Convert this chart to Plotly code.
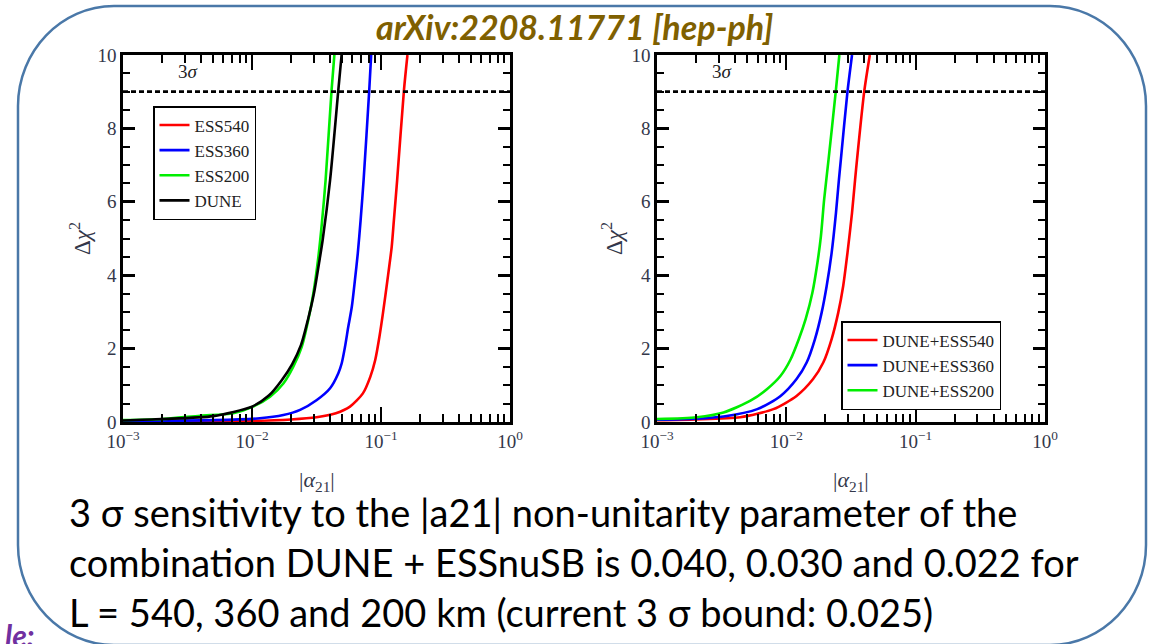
import plotly.graph_objects as go

# ---------------- data ----------------
# Left panel: individual experiments
ess540_x = [0.001, 0.01, 0.02, 0.0316, 0.0447, 0.0575, 0.0724, 0.0826, 0.0902, 0.0973, 0.1035, 0.1122, 0.1211, 0.1259, 0.1334, 0.1507, 0.1603]
ess540_y = [0.01, 0.03, 0.07, 0.13, 0.24, 0.42, 0.78, 1.23, 1.69, 2.33, 2.96, 3.87, 4.78, 5.50, 6.59, 9.05, 10.0]

ess360_x = [0.001, 0.005, 0.0115, 0.0175, 0.0236, 0.0318, 0.0403, 0.0467, 0.0496, 0.0526, 0.0558, 0.0594, 0.0628, 0.0661, 0.0695, 0.0733, 0.0811, 0.0839]
ess360_y = [0.03, 0.05, 0.10, 0.19, 0.33, 0.60, 0.92, 1.33, 1.60, 2.05, 2.60, 3.14, 3.87, 4.60, 5.50, 6.59, 9.05, 10.0]

ess200_x = [0.001, 0.002, 0.00395, 0.00716, 0.0102, 0.0138, 0.0175, 0.0209, 0.0243, 0.0273, 0.0299, 0.0327, 0.0348, 0.0372, 0.0414, 0.0435]
ess200_y = [0.05, 0.08, 0.17, 0.24, 0.42, 0.69, 1.05, 1.51, 2.05, 2.78, 3.51, 4.50, 5.41, 6.59, 9.05, 10.0]

dune_x = [0.001, 0.002, 0.005, 0.01, 0.0135, 0.017, 0.0205, 0.024, 0.0272, 0.0302, 0.0335, 0.0353, 0.0403, 0.0467, 0.0495]
dune_y = [0.04, 0.08, 0.16, 0.42, 0.72, 1.14, 1.58, 2.10, 2.80, 3.50, 4.45, 4.96, 6.59, 9.05, 10.0]

# Right panel: combinations with DUNE
c540_x = [0.001, 0.002, 0.0044, 0.00794, 0.012, 0.0161, 0.0193, 0.0224, 0.0252, 0.0275, 0.0297, 0.0322, 0.0340, 0.0352, 0.0400, 0.0442]
c540_y = [0.05, 0.07, 0.13, 0.35, 0.71, 1.17, 1.62, 2.26, 2.98, 3.70, 4.61, 5.70, 6.60, 7.15, 9.0, 10.0]

c360_x = [0.001, 0.002, 0.00327, 0.00596, 0.00903, 0.012, 0.01436, 0.01665, 0.01875, 0.02049, 0.0224, 0.0242, 0.0255, 0.0264, 0.0297, 0.0322]
c360_y = [0.06, 0.09, 0.15, 0.35, 0.71, 1.17, 1.62, 2.26, 2.98, 3.70, 4.61, 5.70, 6.60, 7.15, 9.0, 10.0]

c200_x = [0.001, 0.00203, 0.00327, 0.00528, 0.00711, 0.00903, 0.0108, 0.0125, 0.0141, 0.0159, 0.0174, 0.0185, 0.0196, 0.0212, 0.0241, 0.0257]
c200_y = [0.08, 0.13, 0.26, 0.58, 0.90, 1.26, 1.71, 2.26, 2.80, 3.52, 4.34, 5.06, 6.06, 7.15, 9.0, 10.0]

sigma3_level = 9.0
x_range_log = [-3, 0]
y_range = [0, 10]
x_tickvals = [0.001, 0.01, 0.1, 1]
x_ticktext = ["10<sup>\u22123</sup>", "10<sup>\u22122</sup>", "10<sup>\u22121</sup>", "10<sup>0</sup>"]
y_tickvals = [0, 2, 4, 6, 8, 10]

left_names = ["ESS540", "ESS360", "ESS200", "DUNE"]
right_names = ["DUNE+ESS540", "DUNE+ESS360", "DUNE+ESS200"]

RED, BLUE, GREEN, BLACK = "#ff0000", "#0000ff", "#00ee00", "#000000"

W, H = 1150, 644


def px(x):
    return x / W


def py(y):
    return 1 - y / H


fig = go.Figure()
serif = "Liberation Serif"

left_series = [(ess540_x, ess540_y, RED), (ess360_x, ess360_y, BLUE), (ess200_x, ess200_y, GREEN), (dune_x, dune_y, BLACK)]
for (xs, ys, c), name in zip(left_series, left_names):
    fig.add_trace(go.Scatter(x=xs, y=ys, mode="lines", name=name,
                             line=dict(color=c, width=2.6, shape="spline", smoothing=0.7),
                             xaxis="x", yaxis="y", legend="legend"))

right_series = [(c540_x, c540_y, RED), (c360_x, c360_y, BLUE), (c200_x, c200_y, GREEN)]
for (xs, ys, c), name in zip(right_series, right_names):
    fig.add_trace(go.Scatter(x=xs, y=ys, mode="lines", name=name,
                             line=dict(color=c, width=2.6, shape="spline", smoothing=0.7),
                             xaxis="x2", yaxis="y2", legend="legend2"))

# 3 sigma lines
for xa, ya in [("x", "y"), ("x2", "y2")]:
    fig.add_trace(go.Scatter(x=[0.001, 1], y=[sigma3_level, sigma3_level], mode="lines",
                             line=dict(color="black", width=2.8, dash="5px,3px"), showlegend=False,
                             xaxis=xa, yaxis=ya, hoverinfo="skip"))

tickfont = dict(family=serif, size=19, color="#33374a")


def xaxis_cfg(domain, anchor):
    return dict(type="log", range=x_range_log, domain=domain, anchor=anchor, automargin=False,
                tickvals=x_tickvals, ticktext=x_ticktext, ticks="inside", ticklen=15, tickwidth=2,
                tickcolor="black", showline=True, linecolor="black", linewidth=2.5, mirror="ticks",
                showgrid=False, zeroline=False, tickfont=tickfont,
                minor=dict(ticks="inside", ticklen=8, tickwidth=2, tickcolor="black", dtick="D1", showgrid=False))


def yaxis_cfg(domain, anchor):
    return dict(range=y_range, domain=domain, anchor=anchor, tickvals=y_tickvals, automargin=False,
                ticks="inside", ticklen=12, tickwidth=2.5, tickcolor="black",
                showline=True, linecolor="black", linewidth=2.5, mirror="ticks",
                showgrid=False, zeroline=False, tickfont=tickfont,
                minor=dict(ticks="inside", ticklen=7, tickwidth=2, tickcolor="black", dtick=0.5, showgrid=False))


ydom = [py(422), py(55)]
legfont = dict(family=serif, size=17, color="#222")
fig.update_layout(
    width=W, height=H,
    margin=dict(l=0, r=0, t=0, b=0, pad=0, autoexpand=False),
    paper_bgcolor="white", plot_bgcolor="white",
    xaxis=xaxis_cfg([px(123), px(510)], "y"),
    yaxis=yaxis_cfg(ydom, "x"),
    xaxis2=xaxis_cfg([px(657), px(1045)], "y2"),
    yaxis2=yaxis_cfg(ydom, "x2"),
    legend=dict(x=px(153), y=py(106), xanchor="left", yanchor="top", bgcolor="white",
                bordercolor="black", borderwidth=1.5, font=legfont, tracegroupgap=0, itemwidth=30),
    legend2=dict(x=px(841), y=py(321), xanchor="left", yanchor="top", bgcolor="white",
                 bordercolor="black", borderwidth=1.5, font=legfont, tracegroupgap=0, itemwidth=30),
    showlegend=True,
)

ann = []
for xa, ya in [("x", "y"), ("x2", "y2")]:
    ann.append(dict(x=-2.5, y=9.55, xref=xa, yref=ya, text="3<i>\u03c3</i>", showarrow=False,
                    font=dict(family=serif, size=19, color="#222")))
for xc in [317, 851]:
    ann.append(dict(x=px(xc), y=py(481), xref="paper", yref="paper", text="|<i>\u03b1</i><sub>21</sub>|",
                    xanchor="center", yanchor="middle",
                    showarrow=False, font=dict(family=serif, size=22, color="#33374a")))
for xc in [80, 612]:
    ann.append(dict(x=px(xc), y=py(239), xref="paper", yref="paper", text="\u0394<i>\u03c7</i><sup>2</sup>",
                    xanchor="center", yanchor="middle",
                    showarrow=False, textangle=-90, font=dict(family=serif, size=23, color="#33374a")))
ann.append(dict(x=px(575), y=py(26), xref="paper", yref="paper", text="<b><i>arXiv:2208.11771 [hep-ph]</i></b>",
                xanchor="center", yanchor="middle",
                showarrow=False, font=dict(family="Lato", size=34, color="#7f6000")))
lines = ["3 \u03c3 sensitivity to the |a21| non-unitarity parameter of the",
         "combination DUNE + ESSnuSB is 0.040, 0.030 and 0.022 for",
         "L = 540, 360 and 200 km (current 3 \u03c3 bound: 0.025)"]
for i, t in enumerate(lines):
    ann.append(dict(x=px(67), y=py(512 + 50 * i), xref="paper", yref="paper", text=t, xanchor="left",
                    yanchor="middle", showarrow=False, font=dict(family="Lato", size=38, color="black")))
ann.append(dict(x=px(37), y=py(615), xref="paper", yref="paper", text="<b><i>le:</i></b>", xanchor="right",
                yanchor="top", showarrow=False, font=dict(family="Lato", size=30, color="#7030a0")))
fig.update_layout(annotations=ann)

# rounded border
L, R, T, B = 18, 1146, 6, 645
rx, ry = 96, 100
k = 0.55
path = (f"M {px(L+rx)},{py(T)} L {px(R-rx)},{py(T)} "
        f"C {px(R-rx+k*rx)},{py(T)} {px(R)},{py(T+ry-k*ry)} {px(R)},{py(T+ry)} "
        f"L {px(R)},{py(B-ry)} "
        f"C {px(R)},{py(B-ry+k*ry)} {px(R-rx+k*rx)},{py(B)} {px(R-rx)},{py(B)} "
        f"L {px(L+rx)},{py(B)} "
        f"C {px(L+rx-k*rx)},{py(B)} {px(L)},{py(B-ry+k*ry)} {px(L)},{py(B-ry)} "
        f"L {px(L)},{py(T+ry)} "
        f"C {px(L)},{py(T+ry-k*ry)} {px(L+rx-k*rx)},{py(T)} {px(L+rx)},{py(T)} Z")
fig.add_shape(type="path", path=path, xref="paper", yref="paper", line=dict(color="#4a78a8", width=2.5), layer="below")

fig.write_html("out.html", config={"displayModeBar": False},
               post_script="document.body.style.margin='0';document.body.style.overflow='hidden';")
